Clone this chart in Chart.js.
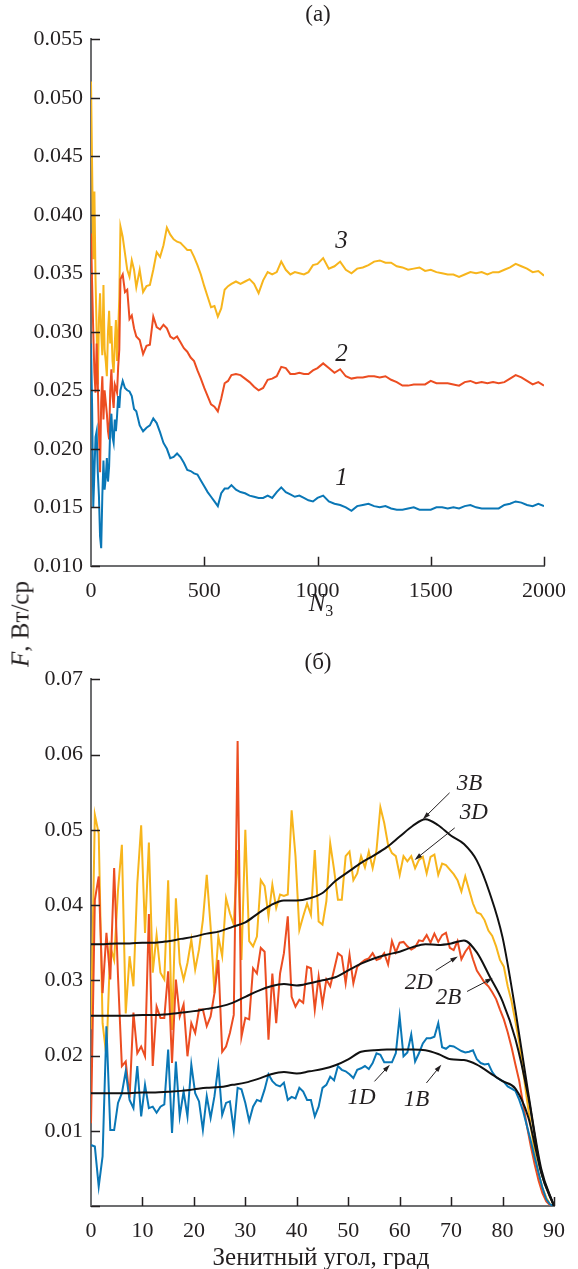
<!DOCTYPE html>
<html><head><meta charset="utf-8">
<script src="https://cdn.jsdelivr.net/npm/chart.js@4.4.1/dist/chart.umd.min.js"></script>
<style>
html,body{margin:0;padding:0;background:#fff;}
body{width:578px;height:1269px;position:relative;overflow:hidden;font-family:"Liberation Serif","Times New Roman",serif;color:#231f20;}
.wrap{position:absolute;left:0;width:578px;}
canvas{display:block;}
.lbl{position:absolute;white-space:nowrap;font-size:21px;line-height:1;transform:translate(-50%,-50%);}
.lbl sub{font-size:16px;vertical-align:-5px;}
</style></head><body>
<div class="wrap" style="top:0;height:610px"><canvas id="ca" width="578" height="610" style="width:578px;height:610px"></canvas></div>
<div class="wrap" style="top:620px;height:649px"><canvas id="cb" width="578" height="649" style="width:578px;height:649px"></canvas></div>
<div class="lbl" style="left:318px;top:13px;font-size:23px">(а)</div>
<div class="lbl" style="left:321px;top:604px;font-size:25px"><i>N</i><sub>3</sub></div>
<div class="lbl" style="left:20px;top:624px;transform:translate(-50%,-50%) rotate(-90deg);font-size:25px"><i>F</i>, Вт/ср</div>
<div class="lbl" style="left:318px;top:661px;font-size:23px">(б)</div>
<div class="lbl" style="left:321px;top:1256px;font-size:25px">Зенитный угол, град</div>
<script>
// ---------- (a) data ----------
const nValues = [0,5,10,15,20,25,30,35,40,45,50,55,60,65,70,75,80,85,90,95,100,105,110,115,120,125,130,
140,150,160,170,180,190,200,
215,230,245,260,275,290,305,320,335,350,365,380,395,410,425,440,455,470,485,500,515,530,545,560,575,590,605,620,
640,660,680,700,720,740,760,780,800,820,840,860,880,900,920,940,960,980,1000,
1025,1050,1075,1100,1125,1150,1175,1200,1225,1250,1275,1300,1325,1350,1375,1400,1425,1450,1475,1500,
1525,1550,1575,1600,1625,1650,1675,1700,1725,1750,1775,1800,1825,1850,1875,1900,1925,1950,1975,2000];

const series3 = [0.0514,0.0440,0.0362,0.0420,0.0345,0.0300,0.0255,0.0310,0.0333,0.0300,0.0280,0.0340,0.0285,0.0275,0.0262,0.0300,0.0318,0.0290,0.0305,0.0275,0.0265,0.0290,0.0310,0.0275,0.0300,0.0330,0.0390,
0.0381,0.0367,0.0353,0.0347,0.0361,0.0353,0.0338,
0.0353,0.0334,0.0339,0.0340,0.0353,0.0368,0.0364,0.0374,0.0389,0.0383,0.0379,0.0377,0.0376,0.0373,0.0370,0.0370,0.0364,0.0357,0.0349,0.0339,0.0330,0.0321,0.0322,0.0313,0.0320,0.0336,0.0339,0.0341,
0.0343,0.0341,0.0343,0.0345,0.0341,0.0333,0.0344,0.0351,0.0349,0.0351,0.0360,0.0353,0.0349,0.0351,0.0350,0.0349,0.0351,0.0357,0.0358,
0.0363,0.0354,0.0356,0.0360,0.0353,0.0350,0.0354,0.0355,0.0357,0.0360,0.0361,0.0359,0.0359,0.0356,0.0355,0.0353,0.0354,0.0355,0.0352,0.0353,
0.0351,0.0350,0.0349,0.0349,0.0347,0.0349,0.0351,0.0350,0.0351,0.0349,0.0351,0.0351,0.0353,0.0355,0.0358,0.0356,0.0354,0.0351,0.0352,0.0348];

const series2 = [0.0384,0.0340,0.0300,0.0265,0.0248,0.0290,0.0255,0.0215,0.0180,0.0240,0.0262,0.0225,0.0250,0.0240,0.0230,0.0215,0.0208,0.0250,0.0268,0.0245,0.0235,0.0255,0.0252,0.0248,0.0270,0.0285,0.0345,
0.0349,0.0334,0.0336,0.0311,0.0314,0.0303,0.0296,
0.0293,0.0281,0.0288,0.0289,0.0313,0.0304,0.0302,0.0306,0.0303,0.0296,0.0294,0.0296,0.0291,0.0286,0.0283,0.0278,0.0275,0.0267,0.0260,0.0252,0.0245,0.0238,0.0236,0.0232,0.0243,0.0256,0.0258,0.0263,
0.0264,0.0263,0.0260,0.0257,0.0253,0.0250,0.0252,0.0259,0.0260,0.0262,0.0270,0.0269,0.0264,0.0264,0.0265,0.0264,0.0264,0.0267,0.0269,
0.0273,0.0269,0.0265,0.0268,0.0262,0.0260,0.0261,0.0261,0.0262,0.0262,0.0261,0.0262,0.0259,0.0257,0.0254,0.0254,0.0255,0.0255,0.0255,0.0258,
0.0256,0.0256,0.0256,0.0255,0.0254,0.0257,0.0258,0.0256,0.0257,0.0256,0.0257,0.0256,0.0257,0.0260,0.0263,0.0261,0.0258,0.0255,0.0257,0.0254];

const series1 = [0.0290,0.0235,0.0150,0.0180,0.0210,0.0215,0.0180,0.0160,0.0125,0.0115,0.0160,0.0190,0.0165,0.0175,0.0192,0.0172,0.0185,0.0218,0.0230,0.0210,0.0205,0.0225,0.0215,0.0228,0.0245,0.0235,0.0250,
0.0258,0.0252,0.0250,0.0249,0.0245,0.0234,0.0232,
0.0220,0.0215,0.0218,0.0220,0.0226,0.0222,0.0214,0.0205,0.0200,0.0192,0.0193,0.0196,0.0193,0.0188,0.0182,0.0181,0.0179,0.0178,0.0173,0.0168,0.0163,0.0159,0.0155,0.0151,0.0162,0.0166,0.0166,0.0169,
0.0165,0.0163,0.0162,0.0160,0.0159,0.0158,0.0158,0.0160,0.0158,0.0163,0.0167,0.0163,0.0161,0.0159,0.0160,0.0158,0.0156,0.0155,0.0158,
0.0160,0.0155,0.0153,0.0152,0.0150,0.0147,0.0151,0.0152,0.0153,0.0151,0.0150,0.0151,0.0149,0.0148,0.0148,0.0149,0.0150,0.0148,0.0148,0.0148,
0.0150,0.0150,0.0149,0.0150,0.0149,0.0151,0.0152,0.0150,0.0149,0.0149,0.0149,0.0149,0.0152,0.0153,0.0155,0.0154,0.0152,0.0151,0.0153,0.0151];

const topTicksX = [0,500,1000,1500,2000];
const topTicksY = [0.010,0.015,0.020,0.025,0.030,0.035,0.040,0.045,0.050,0.055];

// ---------- (б) data ----------
const angles = [0,0.75,1.5,2.25,3,3.75,4.5,5.25,6,6.75,7.5,8.25,9,9.75,10.5,11.25,12,12.75,13.5,14.25,
15,15.75,16.5,17.25,18,18.75,19.5,20.25,21,21.75,22.5,23.25,24,24.75,25.5,26.25,27,27.75,28.5,29.25,
30,30.75,31.5,32.25,33,33.75,34.5,35.25,36,36.75,37.5,38.25,39,39.75,40.5,41.25,42,42.75,43.5,44.25,
45,45.75,46.5,47.25,48,48.75,49.5,50.25,51,51.75,52.5,53.25,54,54.75,55.5,56.25,57,57.75,58.5,59.25,
60,60.75,61.5,62.25,63,63.75,64.5,65.25,66,66.75,67.5,68.25,69,69.75,70.5,71.25,72,72.75,73.5,74.25,
75,75.75,76.5,77.25,78,78.75,79.5,80.25,81,81.75,82.5,83.25,84,84.75,85.5,86.25,87,87.75,88.5,89.25,90];

const series1D = [0.0081,0.0079,0.0026,0.0066,0.0239,0.0101,0.0101,0.0137,0.0150,0.0179,
0.0141,0.0130,0.0186,0.0119,0.0161,0.0130,0.0132,0.0124,0.0132,0.0135,
0.0208,0.0097,0.0192,0.0119,0.0152,0.0119,0.0188,0.0150,0.0139,0.0101,
0.0146,0.0117,0.0146,0.0186,0.0121,0.0137,0.0139,0.0101,0.0157,0.0155,
0.0137,0.0113,0.0132,0.0141,0.0139,0.0155,0.0175,0.0166,0.0161,0.0159,
0.0164,0.0141,0.0145,0.0143,0.0157,0.0152,0.0141,0.0141,0.0119,0.0132,
0.0157,0.0161,
0.0172,0.0167,0.0186,0.0181,0.0179,0.0175,0.0170,0.0181,0.0183,0.0186,
0.0182,0.0190,0.0203,0.0201,0.0191,0.0191,0.0191,0.0203,0.0252,0.0199,
0.0204,0.0228,0.0192,0.0203,0.0216,0.0223,0.0223,0.0225,0.0243,0.0211,
0.0209,0.0213,0.0212,0.0209,0.0206,0.0204,0.0205,0.0207,0.0195,0.0190,
0.0188,0.0189,0.0178,0.0171,0.0168,0.0165,0.0159,0.0156,0.0153,0.0141,
0.0126,0.0106,0.0086,0.0064,0.0044,0.0024,0.0009,0.0002,0.0000];

const series2D = [0.0110,0.0407,0.0438,0.0283,0.0363,0.0301,0.0449,0.0305,0.0186,0.0192,
0.0144,0.0257,0.0203,0.0212,0.0199,0.0388,0.0186,0.0265,0.0250,0.0250,
0.0312,0.0190,0.0301,0.0252,0.0268,0.0199,0.0243,0.0230,0.0261,0.0261,
0.0239,0.0252,0.0283,0.0327,0.0205,0.0212,0.0230,0.0254,0.0618,0.0225,
0.0250,0.0248,0.0316,0.0309,0.0343,0.0338,0.0221,0.0309,0.0243,0.0309,
0.0336,0.0385,0.0278,0.0265,0.0274,0.0270,0.0318,0.0316,0.0261,0.0305,
0.0268,0.0301,
0.0292,0.0314,0.0336,0.0332,0.0296,0.0334,0.0296,0.0318,0.0323,0.0327,
0.0329,0.0336,0.0327,0.0329,0.0336,0.0321,0.0352,0.0337,0.0350,0.0351,
0.0345,0.0341,0.0344,0.0353,0.0352,0.0360,0.0350,0.0362,0.0351,0.0360,
0.0363,0.0343,0.0340,0.0352,0.0328,0.0338,0.0345,0.0328,0.0313,0.0305,
0.0297,0.0292,0.0284,0.0275,0.0261,0.0248,0.0231,0.0211,0.0188,0.0166,
0.0135,0.0106,0.0079,0.0055,0.0034,0.0017,0.0006,0.0001,0.0000];

const series3D = [0.0235,0.0520,0.0495,0.0243,0.0199,0.0345,0.0327,0.0420,0.0480,0.0256,
0.0332,0.0292,0.0429,0.0506,0.0363,0.0483,0.0310,0.0360,0.0310,0.0301,
0.0433,0.0234,0.0409,0.0323,0.0301,0.0323,0.0354,0.0314,0.0341,0.0380,
0.0440,0.0371,0.0283,0.0358,0.0332,0.0409,0.0389,0.0374,0.0473,0.0327,
0.0500,0.0352,0.0345,0.0358,0.0433,0.0425,0.0385,0.0427,0.0396,0.0414,
0.0412,0.0414,0.0526,0.0465,0.0367,0.0385,0.0402,0.0387,0.0473,0.0378,
0.0374,0.0405,
0.0482,0.0447,0.0407,0.0407,0.0465,0.0471,0.0433,0.0442,0.0465,0.0450,
0.0471,0.0449,0.0473,0.0530,0.0509,0.0480,0.0469,0.0465,0.0440,0.0465,
0.0458,0.0465,0.0449,0.0460,0.0464,0.0442,0.0464,0.0467,0.0440,0.0455,
0.0453,0.0447,0.0441,0.0433,0.0418,0.0438,0.0420,0.0402,0.0390,0.0388,
0.0380,0.0366,0.0359,0.0345,0.0327,0.0318,0.0292,0.0272,0.0245,0.0217,
0.0179,0.0141,0.0106,0.0070,0.0044,0.0024,0.0011,0.0002,0.0000];

const anglesB = [0,2.5,5,7.5,10,12.5,15,17.5,20,22.5,25,27.5,30,32.5,35,37.5,40,42.5,45,47.5,
50,52.5,55,57.5,60,62.5,65,67.5,70,72.5,75,77.5,80,82.5,85,87.5,90];
const series1B = [0.0150,0.0150,0.0150,0.0150,0.0151,0.0151,0.0152,0.0153,0.0155,0.0157,
0.0158,0.0161,0.0164,0.0169,0.0175,0.0178,0.0176,0.0179,0.0182,0.0187,
0.0195,0.0205,0.0207,0.0208,0.0208,0.0208,0.0207,0.0202,0.0195,0.0194,
0.0188,0.0177,0.0166,0.0156,0.0118,0.0045,0.0000];
const series2B = [0.0253,0.0253,0.0253,0.0253,0.0254,0.0254,0.0255,0.0257,0.0259,0.0262,
0.0265,0.0270,0.0278,0.0286,0.0292,0.0295,0.0293,0.0296,0.0300,0.0304,
0.0313,0.0322,0.0329,0.0334,0.0338,0.0344,0.0348,0.0347,0.0349,0.0353,
0.0337,0.0305,0.0272,0.0222,0.0145,0.0045,0.0000];
const series3B = [0.0348,0.0348,0.0349,0.0349,0.0350,0.0350,0.0352,0.0355,0.0358,0.0362,
0.0365,0.0371,0.0377,0.0389,0.0400,0.0406,0.0406,0.0409,0.0416,0.0432,
0.0444,0.0456,0.0466,0.0477,0.0491,0.0505,0.0514,0.0506,0.0492,0.0481,
0.0459,0.0416,0.0357,0.0260,0.0150,0.0050,0.0000];

const botTicksX = [0,10,20,30,40,50,60,70,80,90];
const botTicksY = [0,0.01,0.02,0.03,0.04,0.05,0.06,0.07];

// ---------- styling ----------
const C_BLUE = '#0a77b6', C_RED = '#ec4d21', C_YEL = '#f7b51c', C_BLK = '#111111';
const TXT = '#231f20', AXIS = '#6d6e70';
const FONT = {family:'"Liberation Serif","Times New Roman",serif', size:22};

const pts = (xs, ys) => xs.map((x, i) => ({x, y: ys[i]}));

const innerTicks = {
  id: 'innerTicks',
  afterDraw(chart) {
    const {ctx, chartArea: ca, scales: {x, y}} = chart;
    ctx.save();
    ctx.strokeStyle = TXT; ctx.lineWidth = 1.5;
    ctx.beginPath();
    x.ticks.forEach(t => { const p = Math.round(x.getPixelForValue(t.value)) + 0.5; if (p > ca.left + 2) { ctx.moveTo(p, ca.bottom); ctx.lineTo(p, ca.bottom - 9); } });
    y.ticks.forEach(t => { const p = Math.round(y.getPixelForValue(t.value)) + 0.5; ctx.moveTo(ca.left, p); ctx.lineTo(ca.left + 9, p); });
    ctx.stroke();
    ctx.restore();
  }
};

const annot = {
  id: 'annot',
  afterDatasetsDraw(chart, args, opts) {
    const {ctx, scales: {x, y}} = chart;
    ctx.save();
    ctx.fillStyle = TXT; ctx.strokeStyle = TXT;
    ctx.font = 'italic ' + (opts.size || 23) + 'px "Liberation Serif","Times New Roman",serif';
    ctx.textAlign = 'center'; ctx.textBaseline = 'middle';
    (opts.texts || []).forEach(t => ctx.fillText(t.text, x.getPixelForValue(t.x), y.getPixelForValue(t.y)));
    (opts.arrows || []).forEach(a => {
      const x1 = x.getPixelForValue(a.x1), y1 = y.getPixelForValue(a.y1);
      const x2 = x.getPixelForValue(a.x2), y2 = y.getPixelForValue(a.y2);
      const ang = Math.atan2(y2 - y1, x2 - x1);
      ctx.lineWidth = 1;
      ctx.beginPath(); ctx.moveTo(x1, y1); ctx.lineTo(x2 - 4 * Math.cos(ang), y2 - 4 * Math.sin(ang)); ctx.stroke();
      ctx.beginPath();
      ctx.moveTo(x2, y2);
      ctx.lineTo(x2 - 8 * Math.cos(ang - 0.3), y2 - 8 * Math.sin(ang - 0.3));
      ctx.lineTo(x2 - 8 * Math.cos(ang + 0.3), y2 - 8 * Math.sin(ang + 0.3));
      ctx.closePath(); ctx.fill();
    });
    ctx.restore();
  }
};

function axisCommon(extra) {
  return Object.assign({
    type: 'linear',
    grid: {display: false, drawTicks: false},
    border: {display: true, color: AXIS, width: 2},
  }, extra);
}

// ---------- chart (a) ----------
new Chart(document.getElementById('ca'), {
  type: 'line',
  data: {
    datasets: [
      {data: pts(nValues, series1), borderColor: C_BLUE},
      {data: pts(nValues, series2), borderColor: C_RED},
      {data: pts(nValues, series3), borderColor: C_YEL},
    ].map(d => Object.assign({borderWidth: 2, pointRadius: 0, tension: 0, fill: false}, d))
  },
  options: {
    responsive: false, animation: false, devicePixelRatio: 1,
    layout: {padding: {top: 39.3, right: 24, left: 0, bottom: 0}},
    plugins: {
      legend: {display: false}, tooltip: {enabled: false},
      annot: {size: 25, texts: [
        {text: '3', x: 1106, y: 0.0377},
        {text: '2', x: 1106, y: 0.0281},
        {text: '1', x: 1106, y: 0.0175},
      ]}
    },
    scales: {
      x: axisCommon({
        min: 0, max: 2000,
        afterBuildTicks: s => { s.ticks = topTicksX.map(v => ({value: v})); },
        ticks: {font: FONT, color: TXT, padding: 12, maxRotation: 0, callback: v => String(v)},
        afterFit: s => { s.height = 610 - 565.8; }
      }),
      y: axisCommon({
        min: 0.010, max: 0.055,
        afterBuildTicks: s => { s.ticks = topTicksY.map(v => ({value: v})); },
        ticks: {font: FONT, color: TXT, padding: 8, callback: v => v.toFixed(3)},
        afterFit: s => { s.width = 91; }
      })
    }
  },
  plugins: [innerTicks, annot]
});

// ---------- chart (б) ----------
new Chart(document.getElementById('cb'), {
  type: 'line',
  data: {
    datasets: [
      {data: pts(anglesB, series1B), borderColor: C_BLK, cubicInterpolationMode: 'monotone'},
      {data: pts(anglesB, series2B), borderColor: C_BLK, cubicInterpolationMode: 'monotone'},
      {data: pts(anglesB, series3B), borderColor: C_BLK, cubicInterpolationMode: 'monotone'},
      {data: pts(angles, series1D), borderColor: C_BLUE},
      {data: pts(angles, series2D), borderColor: C_RED},
      {data: pts(angles, series3D), borderColor: C_YEL},
    ].map(d => Object.assign({borderWidth: 2, pointRadius: 0, tension: 0, fill: false}, d))
  },
  options: {
    responsive: false, animation: false, devicePixelRatio: 1,
    layout: {padding: {top: 59.3, right: 24, left: 0, bottom: 0}},
    plugins: {
      legend: {display: false}, tooltip: {enabled: false},
      annot: {
        size: 23,
        texts: [
          {text: '3B', x: 73.6, y: 0.0561},
          {text: '3D', x: 74.4, y: 0.05225},
          {text: '2D', x: 63.7, y: 0.02967},
          {text: '2B', x: 69.5, y: 0.02768},
          {text: '1D', x: 52.6, y: 0.0144},
          {text: '1B', x: 63.3, y: 0.01413},
        ],
        arrows: [
          {x1: 69.7, y1: 0.05491, x2: 64.5, y2: 0.05141},
          {x1: 70.7, y1: 0.05025, x2: 62.9, y2: 0.04600},
          {x1: 67.0, y1: 0.03130, x2: 71.3, y2: 0.03316},
          {x1: 73.1, y1: 0.02851, x2: 78.1, y2: 0.03029},
          {x1: 55.1, y1: 0.01656, x2: 58.1, y2: 0.01878},
          {x1: 65.2, y1: 0.01635, x2: 68.1, y2: 0.01878},
        ]
      }
    },
    scales: {
      x: axisCommon({
        min: 0, max: 90,
        afterBuildTicks: s => { s.ticks = botTicksX.map(v => ({value: v})); },
        ticks: {font: FONT, color: TXT, padding: 12, maxRotation: 0, callback: v => String(v)},
        afterFit: s => { s.height = 649 - 586; }
      }),
      y: axisCommon({
        min: 0, max: 0.07,
        afterBuildTicks: s => { s.ticks = botTicksY.map(v => ({value: v})); },
        ticks: {font: FONT, color: TXT, padding: 8, callback: v => (v === 0 ? '' : v.toFixed(2))},
        afterFit: s => { s.width = 91; }
      })
    }
  },
  plugins: [innerTicks, annot]
});
</script>
</body></html>
